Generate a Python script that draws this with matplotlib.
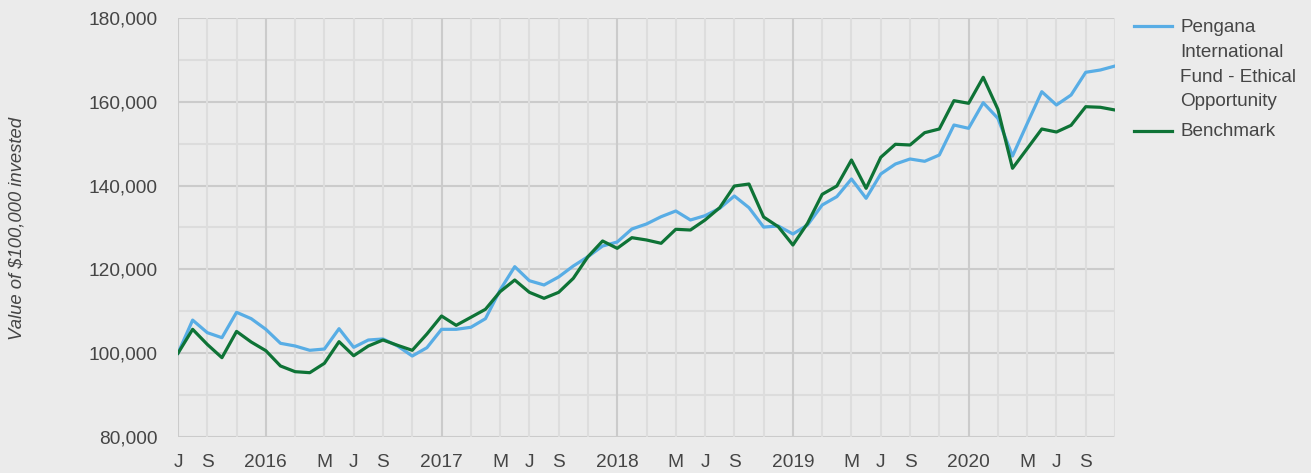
import numpy as np
import matplotlib
matplotlib.use("Agg")
import matplotlib.pyplot as plt
from matplotlib.lines import Line2D

plt.rcParams['font.family'] = ['Liberation Sans', 'DejaVu Sans']

# monthly values, Jul 2015 .. Nov 2020
months = np.arange(65)
fund = [100000, 107900, 104900, 103700, 109760, 108240, 105700, 102360, 101720, 100690,
        101000, 105850, 101400, 103150, 103390, 101720, 99330, 101310, 105700, 105700,
        106180, 108240, 115080, 120650, 117300, 116280, 118200, 120810, 123030, 125580,
        126540, 129640, 130840, 132580, 133940, 131790, 132820, 134580, 137520, 134730,
        130100, 130360, 128450, 130600, 135370, 137360, 141580, 136970, 142770, 145150,
        146350, 145800, 147300, 154460, 153670, 159780, 156060, 147060, 154780, 162410,
        159240, 161620, 167040, 167590, 168540]
bench = [100000, 105700, 102100, 98930, 105200, 102670, 100600, 96950, 95590, 95350,
         97590, 102750, 99400, 101720, 103150, 101880, 100690, 104580, 108880, 106650,
         108560, 110480, 114680, 117470, 114530, 113100, 114530, 117870, 123030, 126780,
         125030, 127570, 127020, 126230, 129570, 129400, 131790, 134730, 139900, 140380,
         132500, 130190, 125820, 131000, 137920, 139900, 146110, 139350, 146750, 149860,
         149690, 152630, 153510, 160270, 159640, 165850, 158210, 144130, 148810, 153510,
         152790, 154390, 158830, 158690, 158040]

tick_pos = [0, 2, 6, 10, 12, 14, 18, 22, 24, 26, 30, 34, 36, 38, 42, 46, 48, 50, 54, 58, 60, 62]
tick_lab = ['J', 'S', '2016', 'M', 'J', 'S', '2017', 'M', 'J', 'S', '2018', 'M', 'J', 'S',
            '2019', 'M', 'J', 'S', '2020', 'M', 'J', 'S']
year_pos = [6, 18, 30, 42, 54]

bg = '#ebebeb'
blue = '#58ade5'
green = '#0e7336'
txt = '#454545'

fig = plt.figure(figsize=(13.11, 4.73), dpi=100, facecolor=bg)
ax = fig.add_axes([178/1311, 36/473, (1115-178)/1311, (437-18)/473])
ax.set_facecolor(bg)

# grid
for v in range(80000, 180001, 10000):
    c = '#cbcbcb' if v % 20000 == 0 else '#dcdcdc'
    ax.axhline(v, color=c, lw=1.5, zorder=1)
for m in range(0, 65, 2):
    c = '#cbcbcb' if m in year_pos or m == 0 else '#dddddd'
    ax.axvline(m, color=c, lw=1.5, zorder=1)

ax.plot(months, fund, color=blue, lw=2.3, zorder=3)
ax.plot(months, bench, color=green, lw=2.3, zorder=4)

ax.set_xlim(0, 64)
ax.set_ylim(80000, 180000)
ax.set_xticks(tick_pos)
ax.set_xticklabels(tick_lab)
ax.set_yticks(range(80000, 180001, 20000))
ax.set_yticklabels(['{:,}'.format(v) for v in range(80000, 180001, 20000)])
ax.tick_params(axis='both', length=0, labelsize=13.8, colors=txt)
ax.tick_params(axis='x', pad=12)
ax.tick_params(axis='y', pad=15)
for s in ax.spines.values():
    s.set_visible(False)

fig.text(17/1311, 1 - 228/473, 'Value of $100,000 invested', rotation=90, style='italic',
         fontsize=13.3, color=txt, ha='center', va='center')

# legend
fig.add_artist(Line2D([1134/1311, 1172/1311], [1 - 26/473, 1 - 26/473], color=blue, lw=2.3))
fig.add_artist(Line2D([1134/1311, 1172/1311], [1 - 131/473, 1 - 131/473], color=green, lw=2.3))
fig.text(1180/1311, 1 - 19.5/473, 'Pengana\nInternational\nFund - Ethical\nOpportunity',
         fontsize=13.6, color=txt, ha='left', va='top', linespacing=1.58)
fig.text(1180/1311, 1 - 131/473, 'Benchmark', fontsize=13.6, color=txt, ha='left', va='center')

plt.savefig('out.png', dpi=100, facecolor=bg)
